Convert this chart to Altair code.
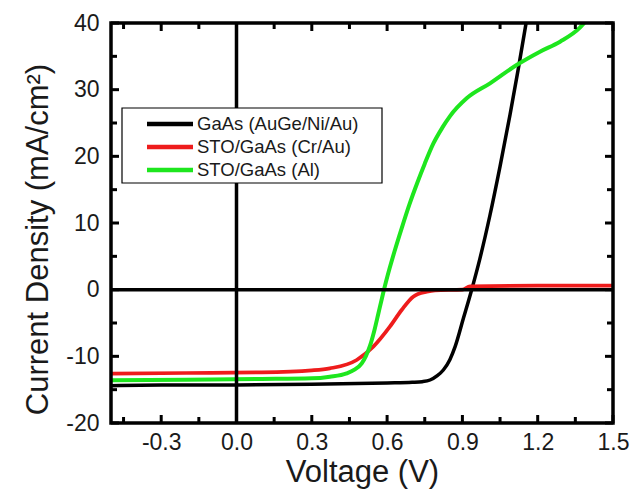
import altair as alt
import pandas as pd

# Series definitions
series_names = ["GaAs (AuGe/Ni/Au)", "STO/GaAs (Cr/Au)", "STO/GaAs (Al)"]
series_colors = ["#000000", "#ee1c1c", "#1ee61e"]
series_widths = [3.5, 4.0, 4.5]

# J-V curves: voltage (V) and current density (mA/cm^2)
gaas_v = [-0.5, -0.3, 0.0, 0.3, 0.6, 0.7, 0.74, 0.771, 0.8, 0.824, 0.85, 0.871,
          0.904, 0.937, 0.97, 1.01, 1.05, 1.09, 1.123, 1.152, 1.16]
gaas_j = [-14.4, -14.3, -14.3, -14.2, -14.0, -13.9, -13.8, -13.55, -12.9, -12.05,
          -10.5, -8.55, -4.3, 0.0, 4.7, 11.2, 18.5, 26.3, 33.2, 39.6, 41.4]

cr_v = [-0.5, -0.2, 0.1, 0.3, 0.372, 0.479, 0.545, 0.611, 0.658, 0.704,
        0.758, 0.791, 0.9, 0.93, 1.2, 1.5]
cr_j = [-12.6, -12.5, -12.4, -12.1, -11.8, -10.55, -8.55, -5.55, -3.05, -1.05,
        -0.3, -0.1, 0.0, 0.5, 0.6, 0.6]

al_v = [-0.5, -0.2, 0.1, 0.3, 0.372, 0.439, 0.47, 0.499, 0.515, 0.532, 0.55,
        0.565, 0.58, 0.595, 0.61, 0.63, 0.658, 0.69, 0.72, 0.75, 0.784, 0.82,
        0.85, 0.917, 1.01, 1.116, 1.209, 1.289, 1.368, 1.392]
al_j = [-13.6, -13.5, -13.4, -13.3, -13.05, -12.55, -12.0, -11.05, -10.0, -8.4,
        -6.0, -3.6, -1.2, 1.1, 3.2, 5.8, 9.2, 12.9, 16.0, 18.9, 21.9, 24.3,
        26.0, 28.7, 30.95, 33.7, 35.7, 37.2, 39.3, 40.3]

# Axis ticks
x_major = [-0.3, 0.0, 0.3, 0.6, 0.9, 1.2, 1.5]
x_minor = [-0.45, -0.15, 0.15, 0.45, 0.75, 1.05, 1.35]
y_major = [-20, -10, 0, 10, 20, 30, 40]
y_minor = [-15, -5, 5, 15, 25, 35]

W, H = 502, 400
FONT = "Liberation Sans"
TEXT = "#1a1a1a"

frames = []
for name, vs, js in zip(series_names, [gaas_v, cr_v, al_v], [gaas_j, cr_j, al_j]):
    frames.append(pd.DataFrame({"v": vs, "j": js, "series": name}))
curves_df = pd.concat(frames, ignore_index=True)
curves_df["order"] = curves_df["series"].map({n: i for i, n in enumerate(series_names)})

x_scale = alt.Scale(domain=[-0.5, 1.5], nice=False, zero=False)
y_scale = alt.Scale(domain=[-20, 40], nice=False, zero=False)

X_TITLE = "Voltage (V)"
Y_TITLE = "Current Density (mA/cm²)"

x_axis = alt.Axis(
    values=x_major,
    labelExpr="datum.value < 0 ? '-' + format(-datum.value, '.1f') : format(datum.value, '.1f')",
    ticks=False, domain=False, grid=False, labelFlush=False,
    labelFontSize=23, labelPadding=8, labelColor=TEXT, labelFont=FONT,
    title=X_TITLE, titleFontSize=31, titleFontWeight="normal",
    titleColor=TEXT, titleFont=FONT,
    titleX=W / 2, titleY=58, titleBaseline="alphabetic", titleAlign="center",
)
y_axis = alt.Axis(
    values=y_major,
    labelExpr="datum.value < 0 ? '-' + format(-datum.value, 'd') : format(datum.value, 'd')",
    ticks=False, domain=False, grid=False, labelFlush=False,
    labelFontSize=23, labelPadding=12, labelColor=TEXT, labelFont=FONT,
    title=Y_TITLE, titleFontSize=31, titleFontWeight="normal",
    titleColor=TEXT, titleFont=FONT, titleAngle=270,
    titleX=-64, titleY=216, titleBaseline="alphabetic", titleAlign="center",
)

curves = alt.Chart(curves_df).mark_line(interpolate="monotone", clip=True).encode(
    x=alt.X("v:Q", scale=x_scale, axis=x_axis, title=X_TITLE),
    y=alt.Y("j:Q", scale=y_scale, axis=y_axis, title=Y_TITLE),
    color=alt.Color("series:N", scale=alt.Scale(domain=series_names, range=series_colors), legend=None),
    strokeWidth=alt.StrokeWidth("series:N", scale=alt.Scale(domain=series_names, range=series_widths), legend=None),
    detail="series:N",
    order="order:Q",
)


def xq():
    return alt.X("v:Q", scale=x_scale, title=X_TITLE)


def yq():
    return alt.Y("j:Q", scale=y_scale, title=Y_TITLE)


# Zero reference lines
zero_v = alt.Chart(pd.DataFrame({"v": [0.0]})).mark_rule(color="black", strokeWidth=3.5).encode(
    x=xq(), y=alt.value(0), y2=alt.value(H)
)
zero_j = alt.Chart(pd.DataFrame({"j": [0.0]})).mark_rule(color="black", strokeWidth=3.5).encode(
    y=yq(), x=alt.value(0), x2=alt.value(W)
)


def x_ticks(values, y0, y1):
    return alt.Chart(pd.DataFrame({"v": values})).mark_rule(color="black", strokeWidth=3).encode(
        x=xq(), y=alt.value(y0), y2=alt.value(y1)
    )


def y_ticks(values, x0, x1):
    return alt.Chart(pd.DataFrame({"j": values})).mark_rule(color="black", strokeWidth=3).encode(
        y=yq(), x=alt.value(x0), x2=alt.value(x1)
    )


MAJ, MIN = 8, 6
ticks = [
    x_ticks(x_major, H, H - MAJ), x_ticks(x_minor, H, H - MIN),
    x_ticks(x_major, 0, MAJ), x_ticks(x_minor, 0, MIN),
    y_ticks(y_major, 0, MAJ), y_ticks(y_minor, 0, MIN),
    y_ticks(y_major, W, W - MAJ), y_ticks(y_minor, W, W - MIN),
]

one = pd.DataFrame({"k": [0]})

# Plot frame
frame = alt.Chart(one).mark_rect(fillOpacity=0, stroke="black", strokeWidth=3.5).encode(
    x=alt.value(0), x2=alt.value(W), y=alt.value(0), y2=alt.value(H)
)

# Legend box with line samples
legend_layers = [
    alt.Chart(one).mark_rect(fill="white", stroke="black", strokeWidth=1.2).encode(
        x=alt.value(11), x2=alt.value(271), y=alt.value(85), y2=alt.value(160)
    )
]
for i, (name, col) in enumerate(zip(series_names, series_colors)):
    yy = 101 + 23 * i
    legend_layers.append(
        alt.Chart(one).mark_rule(color=col, strokeWidth=4.5).encode(
            x=alt.value(36), x2=alt.value(82), y=alt.value(yy)
        )
    )
    legend_layers.append(
        alt.Chart(one).mark_text(align="left", baseline="middle", fontSize=18.5,
                                 font=FONT, color=TEXT).encode(
            x=alt.value(86), y=alt.value(yy), text=alt.value(name)
        )
    )

chart = alt.layer(curves, zero_v, zero_j, *ticks, frame, *legend_layers).properties(
    width=W, height=H,
    autosize=alt.AutoSizeParams(type="none"),
    padding={"left": 111, "top": 23, "right": 20, "bottom": 67},
    background="white",
).configure_view(stroke=None).configure(font=FONT)

chart.save("out.html", embed_options={"renderer": "svg", "actions": False})
